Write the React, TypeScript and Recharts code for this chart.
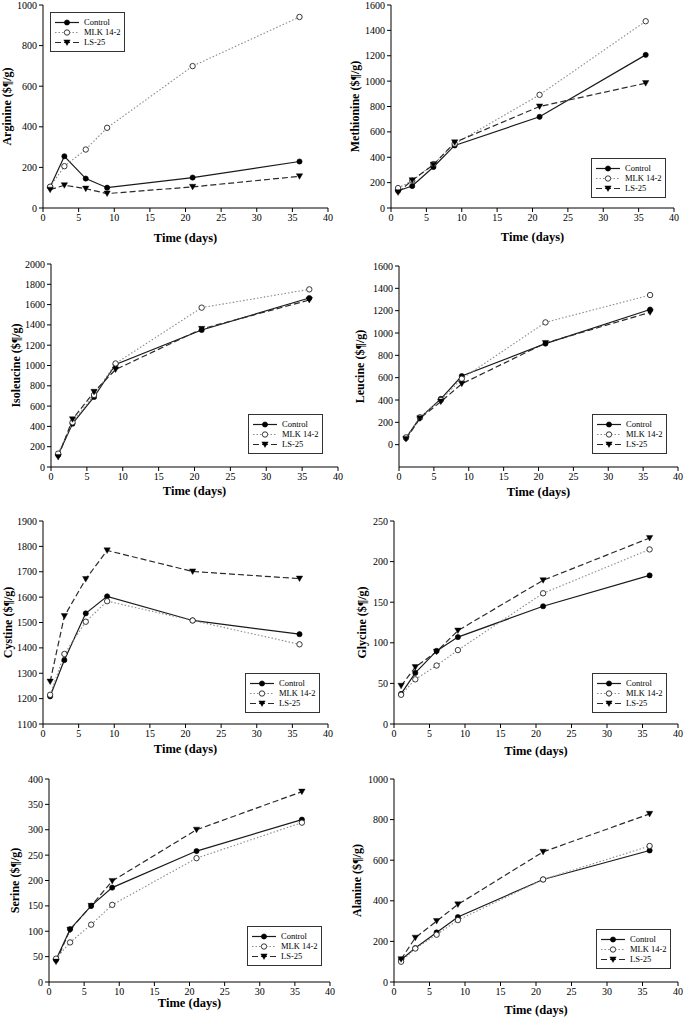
import { LineChart, Line, XAxis, YAxis, Legend } from "recharts";

const SERIF = "'Liberation Serif', 'Times New Roman', serif";

// sampling days
const DAYS = [1, 3, 6, 9, 21, 36];
const X_TICKS = [0, 5, 10, 15, 20, 25, 30, 35, 40];

// values, one array per series and panel
const argControl = [104, 255, 145, 100, 150, 229];
const argMlk = [105, 206, 288, 395, 699, 941];
const argLs = [90, 112, 95, 71, 104, 156];

const metControl = [136, 173, 323, 493, 719, 1207];
const metMlk = [157, 215, 346, 506, 892, 1472];
const metLs = [123, 218, 341, 517, 800, 984];

const ileControl = [120, 427, 690, 1010, 1350, 1665];
const ileMlk = [132, 440, 710, 1020, 1570, 1750];
const ileLs = [98, 470, 740, 960, 1360, 1645];

const leuControl = [60, 240, 410, 615, 905, 1210];
const leuMlk = [65, 245, 400, 590, 1095, 1340];
const leuLs = [50, 235, 385, 545, 910, 1185];

const cysControl = [1209, 1352, 1536, 1603, 1508, 1454];
const cysMlk = [1215, 1376, 1503, 1584, 1508, 1414];
const cysLs = [1267, 1525, 1671, 1784, 1701, 1673];

const glyControl = [37, 63, 90, 107, 145, 183];
const glyMlk = [36, 55, 72, 91, 161, 215];
const glyLs = [47, 70, 89, 115, 177, 229];

const serControl = [44, 104, 150, 186, 258, 320];
const serMlk = [46, 78, 113, 152, 244, 314];
const serLs = [40, 103, 150, 199, 300, 375];

const alaControl = [110, 167, 244, 320, 505, 648];
const alaMlk = [100, 165, 233, 305, 505, 670];
const alaLs = [112, 218, 300, 382, 641, 828];

type Shape = "filled" | "hollow" | "triangle";

const SERIES: { key: string; name: string; stroke: string; width: number; dash?: string; shape: Shape }[] = [
  { key: "control", name: "Control", stroke: "#1a1a1a", width: 1.2, shape: "filled" },
  { key: "mlk", name: "MLK 14-2", stroke: "#8a8a8a", width: 1.1, dash: "1.5 2", shape: "hollow" },
  { key: "ls", name: "LS-25", stroke: "#2a2a2a", width: 1.2, dash: "6 3", shape: "triangle" },
];

function marker(shape: Shape, cx: number, cy: number, key?: string | number) {
  if (shape === "filled") return <circle key={key} cx={cx} cy={cy} r={2.6} fill="#000" stroke="#000" strokeWidth={0.6} />;
  if (shape === "hollow")
    return <circle key={key} cx={cx} cy={cy} r={2.7} fill="#fff" stroke="#222" strokeWidth={0.9} />;
  return (
    <path
      key={key}
      d={`M${cx - 3.2},${cy - 2.6} L${cx + 3.2},${cy - 2.6} L${cx},${cy + 3} Z`}
      fill="#000"
      stroke="#000"
      strokeWidth={0.4}
    />
  );
}

function Key() {
  return (
    <div
      style={{
        width: 75,
        height: 40,
        boxSizing: "border-box",
        border: "1.5px solid #333",
        background: "#fff",
        fontFamily: SERIF,
        fontSize: 8.5,
        paddingTop: 4,
        paddingLeft: 4,
        color: "#000",
      }}
    >
      {SERIES.map((s) => (
        <div key={s.key} style={{ display: "flex", alignItems: "center", height: 10 }}>
          <svg width={24} height={9}>
            <line x1={0} y1={4.5} x2={24} y2={4.5} stroke={s.stroke} strokeWidth={s.width} strokeDasharray={s.dash} />
            {marker(s.shape, 12, 4.5)}
          </svg>
          <span style={{ marginLeft: 5, lineHeight: "10px" }}>{s.name}</span>
        </div>
      ))}
    </div>
  );
}

type Panel = {
  title: string;
  control: number[];
  mlk: number[];
  ls: number[];
  domain: [number, number];
  ticks: number[];
  plot: [number, number, number, number]; // left, top, right, bottom on the page
  yTitleX: number;
  xTitleY: number;
  legend: [number, number];
};

const PANELS: Panel[] = [
  { title: "Arginine ($¶/g)", control: argControl, mlk: argMlk, ls: argLs, domain: [0, 1000],
    ticks: [0, 200, 400, 600, 800, 1000], plot: [43, 5, 328, 208], yTitleX: 7, xTitleY: 238, legend: [50, 12] },
  { title: "Methionine ($¶/g)", control: metControl, mlk: metMlk, ls: metLs, domain: [0, 1600],
    ticks: [0, 200, 400, 600, 800, 1000, 1200, 1400, 1600], plot: [391, 5, 674, 208], yTitleX: 355, xTitleY: 237, legend: [591, 158] },
  { title: "Isoleucine ($¶/g)", control: ileControl, mlk: ileMlk, ls: ileLs, domain: [0, 2000],
    ticks: [0, 200, 400, 600, 800, 1000, 1200, 1400, 1600, 1800, 2000], plot: [51, 264, 338, 467], yTitleX: 16, xTitleY: 491, legend: [248, 414] },
  { title: "Leucine ($¶/g)", control: leuControl, mlk: leuMlk, ls: leuLs, domain: [-200, 1600],
    ticks: [0, 200, 400, 600, 800, 1000, 1200, 1400, 1600], plot: [399, 266, 678, 467], yTitleX: 360, xTitleY: 492, legend: [592, 414] },
  { title: "Cystine ($¶/g)", control: cysControl, mlk: cysMlk, ls: cysLs, domain: [1100, 1900],
    ticks: [1100, 1200, 1300, 1400, 1500, 1600, 1700, 1800, 1900], plot: [43, 521, 328, 724], yTitleX: 8, xTitleY: 749, legend: [245, 673] },
  { title: "Glycine ($¶/g)", control: glyControl, mlk: glyMlk, ls: glyLs, domain: [0, 250],
    ticks: [0, 50, 100, 150, 200, 250], plot: [394, 521, 678, 724], yTitleX: 362, xTitleY: 751, legend: [592, 673] },
  { title: "Serine ($¶/g)", control: serControl, mlk: serMlk, ls: serLs, domain: [0, 400],
    ticks: [0, 50, 100, 150, 200, 250, 300, 350, 400], plot: [49, 779, 330, 982], yTitleX: 15, xTitleY: 1003, legend: [247, 926] },
  { title: "Alanine ($¶/g)", control: alaControl, mlk: alaMlk, ls: alaLs, domain: [0, 1000],
    ticks: [0, 200, 400, 600, 800, 1000], plot: [394, 779, 678, 982], yTitleX: 357, xTitleY: 1010, legend: [596, 929] },
];

const tickStyle = { fill: "#000", fontSize: 10, fontFamily: SERIF };

function AminoChart({ p }: { p: Panel }) {
  const [pl, pt, pr, pb] = p.plot;
  const left = pl - 45;
  const top = pt - 5;
  const width = pr - pl + 55;
  const height = pb - pt + 55;
  const data = DAYS.map((d, i) => ({ day: d, control: p.control[i], mlk: p.mlk[i], ls: p.ls[i] }));

  return (
    <div style={{ position: "absolute", left, top }}>
      <LineChart width={width} height={height} data={data} margin={{ top: 5, right: 10, left: 10, bottom: 20 }}>
        <XAxis
          dataKey="day"
          type="number"
          domain={[0, 40]}
          ticks={X_TICKS}
          tick={tickStyle}
          tickSize={4}
          stroke="#000"
          height={30}
          label={() => (
            <text
              x={45 + (pr - pl) / 2}
              y={p.xTitleY - top}
              textAnchor="middle"
              dominantBaseline="central"
              fontFamily={SERIF}
              fontWeight="bold"
              fontSize={12.5}
              fill="#000"
            >
              Time (days)
            </text>
          )}
        />
        <YAxis
          type="number"
          domain={p.domain}
          ticks={p.ticks}
          interval={0}
          tick={tickStyle}
          tickSize={4}
          stroke="#000"
          width={35}
          label={() => (
            <text
              x={p.yTitleX - left}
              y={5 + (pb - pt) / 2}
              transform={`rotate(-90 ${p.yTitleX - left} ${5 + (pb - pt) / 2})`}
              textAnchor="middle"
              dominantBaseline="central"
              fontFamily={SERIF}
              fontWeight="bold"
              fontSize={12}
              fill="#000"
            >
              {p.title}
            </text>
          )}
        />
        <Legend
          layout="horizontal"
          verticalAlign="middle"
          align="center"
          content={() => <Key />}
          wrapperStyle={{ left: p.legend[0] - left, top: p.legend[1] - top, width: 75, height: 40 }}
        />
        {SERIES.map((s) => (
          <Line
            key={s.key}
            dataKey={s.key}
            name={s.name}
            type="linear"
            stroke={s.stroke}
            strokeWidth={s.width}
            strokeDasharray={s.dash}
            isAnimationActive={false}
            dot={(d: any) => marker(s.shape, d.cx, d.cy, `${s.key}-${d.index}`)}
            activeDot={false}
          />
        ))}
      </LineChart>
    </div>
  );
}

export default function App() {
  return (
    <div style={{ position: "absolute", left: 0, top: 0, width: 685, height: 1019, background: "#fff" }}>
      {PANELS.map((p) => (
        <AminoChart key={p.title} p={p} />
      ))}
    </div>
  );
}
